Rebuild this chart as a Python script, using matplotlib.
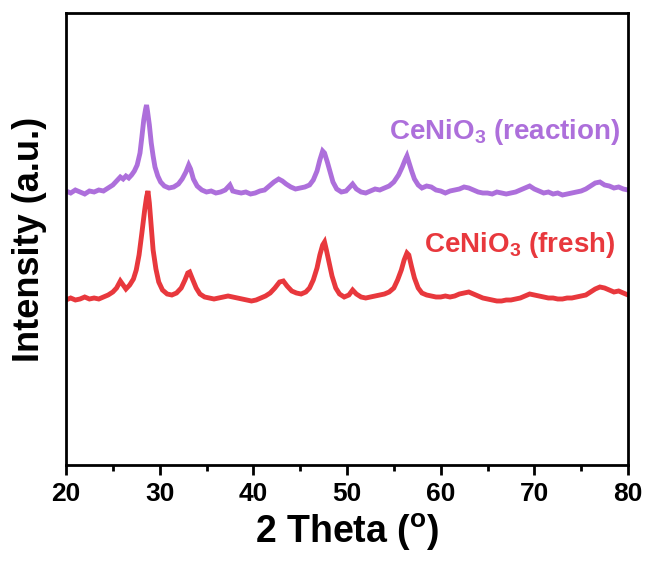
import matplotlib
matplotlib.use("Agg")
import matplotlib.pyplot as plt
from matplotlib.ticker import MultipleLocator

plt.rcParams['font.family'] = ['Liberation Sans', 'DejaVu Sans']
plt.rcParams['font.weight'] = 'bold'
plt.rcParams['mathtext.fontset'] = 'custom'
plt.rcParams['mathtext.rm'] = 'Liberation Sans:bold'
plt.rcParams['mathtext.bf'] = 'Liberation Sans:bold'
plt.rcParams['mathtext.default'] = 'bf'

# 2theta positions and intensities (arbitrary units)
theta_reaction = [20.0, 20.5, 21.0, 21.5, 22.0, 22.5, 23.0, 23.5, 24.0, 24.5,
                  25.0, 25.5, 25.8, 26.1, 26.4, 26.7, 27.0, 27.3, 27.6, 27.9,
                  28.1, 28.3, 28.5, 28.6, 28.7, 28.9, 29.1, 29.3, 29.5, 29.8,
                  30.1, 30.5, 31.0, 31.5, 32.0, 32.4, 32.8, 33.1, 33.3, 33.6,
                  34.0, 34.5, 35.0, 35.5, 36.0, 36.5, 37.0, 37.5, 37.8, 38.2,
                  38.7, 39.2, 39.7, 40.2, 40.7, 41.2, 41.7, 42.2, 42.7, 43.1,
                  43.5, 44.0, 44.5, 45.0, 45.5, 46.0, 46.4, 46.8, 47.1, 47.4,
                  47.6, 47.9, 48.2, 48.5, 48.9, 49.4, 49.9, 50.3, 50.6, 51.0,
                  51.5, 52.0, 52.5, 53.0, 53.5, 54.0, 54.5, 55.0, 55.5, 55.9,
                  56.2, 56.4, 56.6, 56.9, 57.2, 57.6, 58.0, 58.5, 59.0, 59.5,
                  60.0, 60.5, 61.0, 61.5, 62.0, 62.5, 63.0, 63.5, 64.0, 64.5,
                  65.0, 65.5, 66.0, 66.5, 67.0, 67.5, 68.0, 68.5, 69.0, 69.5,
                  70.0, 70.5, 71.0, 71.5, 72.0, 72.5, 73.0, 73.5, 74.0, 74.5,
                  75.0, 75.5, 76.0, 76.5, 77.0, 77.5, 78.0, 78.5, 79.0, 79.5,
                  80.0]
int_reaction = [274, 272, 275, 273, 271, 274, 273, 275, 274, 277,
                280, 285, 288, 286, 289, 287, 290, 294, 300, 312,
                328, 345, 356, 360, 354, 340, 322, 309, 298, 289,
                283, 279, 277, 278, 281, 286, 293, 300, 296, 286,
                279, 275, 273, 274, 272, 273, 275, 280, 274, 273,
                272, 273, 271, 272, 274, 275, 279, 283, 286, 284,
                281, 278, 276, 277, 278, 280, 285, 294, 305, 314,
                312, 303, 293, 283, 276, 273, 274, 278, 281, 276,
                273, 272, 274, 276, 275, 277, 279, 283, 290, 298,
                305, 309, 303, 294, 286, 280, 277, 279, 278, 275,
                274, 272, 274, 275, 276, 278, 277, 275, 273, 272,
                272, 271, 273, 272, 271, 272, 273, 275, 277, 279,
                276, 274, 272, 273, 271, 272, 270, 271, 272, 273,
                274, 276, 279, 282, 283, 280, 279, 277, 278, 276,
                275]

theta_fresh = [20.0, 20.5, 21.0, 21.5, 22.0, 22.5, 23.0, 23.5, 24.0, 24.5,
               25.0, 25.4, 25.8, 26.1, 26.4, 26.8, 27.2, 27.5, 27.8, 28.1,
               28.4, 28.6, 28.75, 28.9, 29.1, 29.3, 29.6, 29.9, 30.3, 30.8,
               31.3, 31.8, 32.3, 32.7, 33.0, 33.2, 33.5, 33.9, 34.3, 34.8,
               35.3, 35.8, 36.3, 36.8, 37.3, 37.8, 38.3, 38.8, 39.3, 39.8,
               40.3, 40.8, 41.3, 41.8, 42.3, 42.8, 43.2, 43.6, 44.1, 44.6,
               45.1, 45.6, 46.0, 46.4, 46.8, 47.1, 47.4, 47.6, 47.8, 48.1,
               48.4, 48.8, 49.2, 49.7, 50.2, 50.6, 51.0, 51.5, 52.0, 52.5,
               53.0, 53.5, 54.0, 54.5, 55.0, 55.4, 55.8, 56.1, 56.4, 56.6,
               56.9, 57.2, 57.6, 58.0, 58.5, 59.0, 59.5, 60.0, 60.5, 61.0,
               61.5, 62.0, 62.5, 63.0, 63.5, 64.0, 64.5, 65.0, 65.5, 66.0,
               66.5, 67.0, 67.5, 68.0, 68.5, 69.0, 69.5, 70.0, 70.5, 71.0,
               71.5, 72.0, 72.5, 73.0, 73.5, 74.0, 74.5, 75.0, 75.5, 76.0,
               76.5, 77.0, 77.5, 78.0, 78.5, 79.0, 79.5, 80.0]
int_fresh = [165, 167, 165, 166, 168, 166, 167, 166, 168, 170,
             173, 177, 184, 180, 176, 180, 186, 195, 210, 232,
             255, 268, 274, 262, 238, 215, 196, 183, 175, 171,
             170, 172, 177, 185, 192, 193, 186, 177, 171, 168,
             167, 166, 167, 168, 169, 168, 167, 166, 165, 164,
             165, 167, 169, 172, 177, 183, 184, 179, 174, 172,
             171, 173, 177, 185, 197, 210, 220, 223, 215, 202,
             189, 177, 171, 168, 170, 175, 171, 168, 167, 168,
             169, 170, 171, 173, 177, 185, 195, 205, 212, 210,
             198, 187, 177, 172, 170, 169, 168, 168, 169, 168,
             169, 171, 172, 173, 171, 169, 167, 166, 165, 164,
             164, 165, 165, 166, 167, 169, 171, 170, 169, 168,
             167, 167, 166, 166, 167, 167, 168, 169, 170, 173,
             176, 178, 177, 175, 173, 174, 172, 170]

labels = ['CeNiO$_3$ (reaction)', 'CeNiO$_3$ (fresh)']
colors = ['#AD6FDB', '#E8383D']

fig = plt.figure(figsize=(6.48, 5.63), dpi=100)
ax = fig.add_axes([66 / 648, (563 - 465) / 563, 562 / 648, 452 / 563])

ax.plot(theta_reaction, int_reaction, color=colors[0], lw=3.5,
        solid_joinstyle='miter')
ax.plot(theta_fresh, int_fresh, color=colors[1], lw=3.5,
        solid_joinstyle='miter')

ax.text(79.2, 333, labels[0], color=colors[0], fontsize=20, fontweight='bold',
        ha='right', va='center')
ax.text(78.6, 220, labels[1], color=colors[1], fontsize=20, fontweight='bold',
        ha='right', va='center')

ax.set_xlim(20, 80)
ax.set_ylim(0, 452)
ax.xaxis.set_major_locator(MultipleLocator(10))
ax.xaxis.set_minor_locator(MultipleLocator(5))
ax.set_yticks([])
ax.tick_params(axis='x', which='major', length=7, width=2, direction='out',
               labelsize=19, pad=5)
ax.tick_params(axis='x', which='minor', length=4, width=2, direction='out')
for s in ax.spines.values():
    s.set_linewidth(2)

ax.set_xlabel('2 Theta ($^\\mathbf{o}$)', fontsize=27, fontweight='bold',
              labelpad=4)
ax.set_ylabel('Intensity (a.u.)', fontsize=26, fontweight='bold', labelpad=14)

fig.savefig('out.png', dpi=100)
